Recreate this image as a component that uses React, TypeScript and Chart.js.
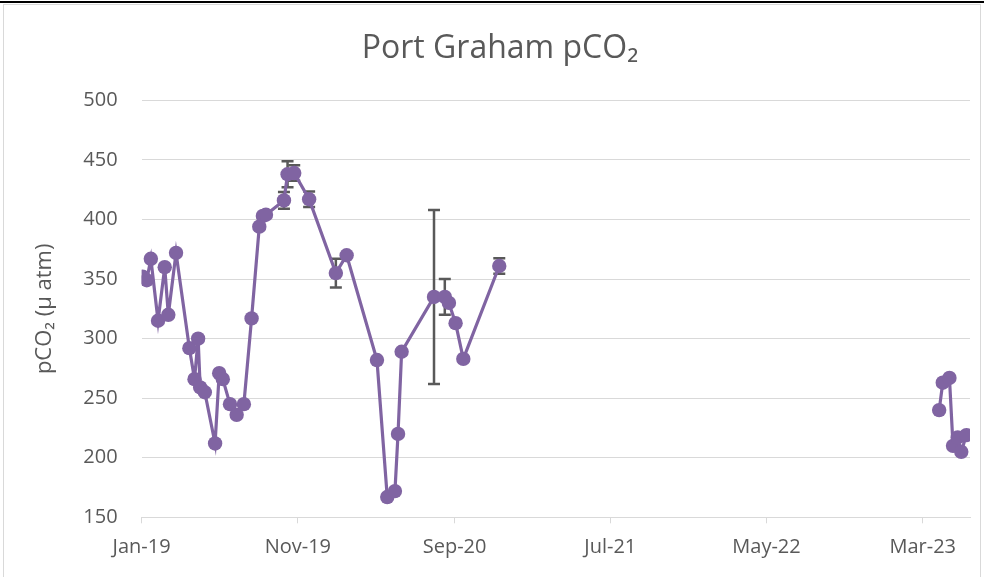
import React, { useEffect, useRef } from "react";
import { Chart, registerables } from "chart.js";

Chart.register(...registerables);

// ---- data ----
const sampleDates = [
  "2019-01-03", "2019-01-11", "2019-01-19", "2019-02-02", "2019-02-15", "2019-02-22",
  "2019-03-09", "2019-04-04", "2019-04-14", "2019-04-21", "2019-04-25", "2019-05-04",
  "2019-05-24", "2019-06-01", "2019-06-08", "2019-06-22", "2019-07-05", "2019-07-19",
  "2019-08-03", "2019-08-18", "2019-08-25", "2019-08-31", "2019-10-05", "2019-10-12",
  "2019-10-25", "2019-11-23", "2020-01-14", "2020-02-04", "2020-04-03", "2020-04-23",
  "2020-05-08", "2020-05-14", "2020-05-21", "2020-07-23", "2020-08-13", "2020-08-21",
  "2020-09-03", "2020-09-18", "2020-11-27",
  "2022-01-01",
  "2023-04-02", "2023-04-09", "2023-04-22", "2023-04-29", "2023-05-08", "2023-05-15",
  "2023-05-25",
];
const pco2Values: (number | null)[] = [
  352, 349, 367, 315, 360, 320,
  372, 292, 266, 300, 259, 255,
  212, 271, 266, 245, 236, 245,
  317, 394, 403, 404, 416, 438,
  439, 417, 355, 370, 282, 167,
  172, 220, 289, 335, 335, 330,
  313, 283, 361,
  null,
  240, 263, 267, 210, 217, 205,
  219,
];
const pco2Errors: (number | null)[] = [
  null, null, null, null, null, null,
  null, null, null, null, null, null,
  null, null, null, null, null, null,
  null, null, null, null, 7, 11,
  6.5, 6.5, 12, null, null, null,
  null, null, null, 73, 15, null,
  null, null, 6.5,
  null,
  null, null, null, null, null, null,
  null,
];
const xTickLabels = ["Jan-19", "Nov-19", "Sep-20", "Jul-21", "May-22", "Mar-23"];
const xAxisStart = "2019-01-01";
const xAxisEnd = "2023-06-01";
const yMin = 150;
const yMax = 500;
const yStep = 50;

const chartTitle = "Port Graham pCO\u2082";
const yAxisTitle = "pCO\u2082 (\u00B5 atm)";

// ---- helpers ----
const DAY = 86400000;
const t0 = Date.parse(xAxisStart);
const toDay = (iso: string) => (Date.parse(iso) - t0) / DAY;
const MONTHS = ["Jan", "Feb", "Mar", "Apr", "May", "Jun", "Jul", "Aug", "Sep", "Oct", "Nov", "Dec"];
const labelToDay = (lbl: string) => {
  const [m, y] = lbl.split("-");
  return (Date.UTC(2000 + Number(y), MONTHS.indexOf(m), 1) - t0) / DAY;
};
const xTickValues = xTickLabels.map(labelToDay);

const PURPLE = "#8064A2";
const TEXT = "#595959";
const GRID = "#d9d9d9";
const FONT = "'Open Sans', sans-serif";

const errorBarPlugin = {
  id: "errorBars",
  beforeDatasetsDraw(chart: any) {
    const { ctx, scales } = chart;
    const xs = scales.x;
    const ys = scales.y;
    ctx.save();
    ctx.strokeStyle = "#595959";
    ctx.lineWidth = 2.5;
    ctx.lineCap = "butt";
    sampleDates.forEach((d, i) => {
      const v = pco2Values[i];
      const e = pco2Errors[i];
      if (v == null || e == null) return;
      const px = xs.getPixelForValue(toDay(d));
      const pTop = ys.getPixelForValue(v + e);
      const pBot = ys.getPixelForValue(v - e);
      const cap = 6;
      ctx.beginPath();
      ctx.moveTo(px, pTop);
      ctx.lineTo(px, pBot);
      ctx.moveTo(px - cap, pTop);
      ctx.lineTo(px + cap, pTop);
      ctx.moveTo(px - cap, pBot);
      ctx.lineTo(px + cap, pBot);
      ctx.stroke();
    });
    ctx.restore();
  },
};

export default function App() {
  const canvasRef = useRef<HTMLCanvasElement | null>(null);

  useEffect(() => {
    if (!canvasRef.current) return;
    const chart = new Chart(canvasRef.current, {
      type: "line",
      data: {
        datasets: [
          {
            label: "pCO2",
            data: sampleDates.map((d, i) => ({ x: toDay(d), y: pco2Values[i] })) as any,
            borderColor: PURPLE,
            backgroundColor: PURPLE,
            borderWidth: 3.2,
            pointRadius: 7.2,
            pointHoverRadius: 7.2,
            pointBorderWidth: 0,
            pointBackgroundColor: PURPLE,
            spanGaps: false,
            tension: 0,
          },
        ],
      },
      plugins: [errorBarPlugin],
      options: {
        animation: false,
        responsive: false,
        maintainAspectRatio: false,
        layout: { padding: { left: 16, right: 0, top: 0, bottom: 0 } },
        plugins: {
          legend: { display: false },
          tooltip: { enabled: false },
          title: {
            display: true,
            text: chartTitle,
            color: TEXT,
            font: { family: FONT, size: 32, weight: "normal" as any, lineHeight: 1.2 },
            padding: { top: 30, bottom: 32 },
          },
        },
        scales: {
          x: {
            type: "linear",
            min: toDay(xAxisStart),
            max: toDay(xAxisEnd),
            afterBuildTicks: (scale: any) => {
              scale.ticks = xTickValues.map((v) => ({ value: v }));
            },
            afterFit: (scale: any) => {
              scale.height = 59.7;
            },
            ticks: {
              color: TEXT,
              font: { family: FONT, size: 20 },
              padding: 12,
              maxRotation: 0,
              autoSkip: false,
              callback: (value: any) => {
                const idx = xTickValues.indexOf(Number(value));
                return idx >= 0 ? xTickLabels[idx] : "";
              },
            },
            grid: {
              drawOnChartArea: false,
              drawTicks: true,
              tickLength: 6,
              color: GRID,
              lineWidth: 1,
            },
            border: { display: true, color: GRID, width: 1 },
          },
          y: {
            type: "linear",
            min: yMin,
            max: yMax,
            afterFit: (scale: any) => {
              scale.width = 125.6;
            },
            ticks: {
              stepSize: yStep,
              color: TEXT,
              font: { family: FONT, size: 20 },
              padding: 24,
            },
            grid: {
              color: GRID,
              lineWidth: 1,
              drawTicks: false,
            },
            border: { display: false },
            title: {
              display: true,
              text: yAxisTitle,
              color: TEXT,
              font: { family: FONT, size: 22, weight: "normal" as any, lineHeight: 1.2 },
              padding: { top: 16, bottom: 0 },
            },
          },
          yRightSpacer: {
            type: "linear",
            position: "right",
            display: true,
            min: yMin,
            max: yMax,
            afterFit: (scale: any) => {
              scale.width = 14;
            },
            ticks: { display: false },
            grid: { drawOnChartArea: false, drawTicks: false },
            border: { display: false },
          },
        },
      },
    });
    return () => chart.destroy();
  }, []);

  return (
    <div style={{ position: "fixed", left: 0, top: 0, width: 984, height: 577, background: "#fff" }}>
      <div style={{ position: "absolute", left: 0, top: 1, width: 984, height: 2, background: "#000" }} />
      <div
        style={{
          position: "absolute",
          left: 3,
          top: 4,
          width: 978,
          height: 580,
          border: "1px solid " + GRID,
          boxSizing: "border-box",
        }}
      />
      <canvas ref={canvasRef} width={984} height={577} style={{ position: "absolute", left: 0, top: 0 }} />
    </div>
  );
}
